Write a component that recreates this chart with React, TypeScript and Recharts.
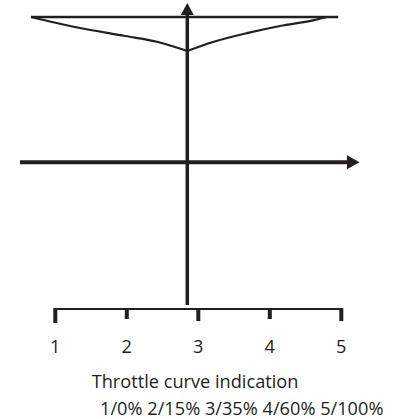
import React from 'react';
import { ComposedChart, Line, XAxis, YAxis, Label } from 'recharts';

// tick positions on the base scale and the throttle value at each one
const ticks = [1, 2, 3, 4, 5];
const throttle = [0, 15, 35, 60, 100];
const caption = 'Throttle curve indication';

// flat edge across the top of the curve diagram
const topEdge = [
  { x: 0.66, y: 98.2 },
  { x: 4.957, y: 98.2 },
];

// the two curve halves meeting at the centre stick
const leftCurve = [
  { x: 0.66, y: 98.2 },
  { x: 1.276, y: 91.4 },
  { x: 1.975, y: 85.3 },
  { x: 2.436, y: 81.3 },
  { x: 2.846, y: 75.2 },
];
const rightCurve = [
  { x: 2.846, y: 75.2 },
  { x: 3.206, y: 81.3 },
  { x: 3.681, y: 87.3 },
  { x: 4.143, y: 92.1 },
  { x: 4.604, y: 95.9 },
  { x: 4.8, y: 98.2 },
];

// arrows (last point = base of the arrow head)
const verticalArrow = [
  { x: 2.846, y: -96.6 },
  { x: 2.846, y: 99.5 },
];
const horizontalArrow = [
  { x: 0.506, y: 0 },
  { x: 5.08, y: 0 },
];

// base scale line
const baseAxis = [
  { x: 1, y: -100 },
  { x: 5, y: -100 },
];

const INK = '#231f20';
const FONT = '"Open Sans", sans-serif';
const FONT_SIZE = 18.2;
const tickDrop = [13, 9, 11, 9, 11];

const arrowHead = (dir: 'up' | 'right') => (props: any) => {
  const { cx, cy, index } = props;
  if (index !== 1) return <g key={`a-${dir}-${index}`} />;
  const pts =
    dir === 'up'
      ? `${cx},${cy - 12} ${cx - 6.5},${cy} ${cx + 6.5},${cy}`
      : `${cx + 12.5},${cy} ${cx},${cy - 7} ${cx},${cy + 7}`;
  return <polygon key={`a-${dir}-${index}`} points={pts} fill={INK} />;
};

const AxisTick = (props: any) => {
  const { x, y, payload, index } = props;
  return (
    <g>
      <line x1={x} x2={x} y1={y} y2={y + tickDrop[index]} stroke={INK} strokeWidth={4} />
      <text x={x} y={y + 42.5} textAnchor="middle" fill={INK} fontSize={FONT_SIZE} fontFamily={FONT}>
        {payload.value}
      </text>
    </g>
  );
};

const CaptionLabel = (props: any) => {
  const { viewBox } = props;
  const line2 = ticks.map((t, i) => `${t}/${throttle[i]}%`).join(' ');
  return (
    <g fill={INK} fontFamily={FONT} fontSize={FONT_SIZE}>
      <text x={viewBox.x + 175.5} y={viewBox.y + 78.3} textAnchor="middle">
        {caption}
      </text>
      <text x={viewBox.x + 222.2} y={viewBox.y + 105} textAnchor="middle">
        {line2}
      </text>
    </g>
  );
};

export default function App() {
  return (
    <div style={{ position: 'absolute', left: 0, top: 0, background: '#fff' }}>
      <ComposedChart width={403} height={419} margin={{ top: 1, right: 40.25, bottom: 0, left: 19.55 }}>
        <XAxis
          dataKey="x"
          type="number"
          domain={[0.5, 5.3]}
          ticks={ticks}
          interval={0}
          allowDataOverflow
          axisLine={false}
          tickLine={false}
          tickSize={0}
          tickMargin={0}
          height={109}
          tick={<AxisTick />}
        >
          <Label content={<CaptionLabel />} />
        </XAxis>
        <YAxis type="number" domain={[-100, 109]} allowDataOverflow hide />

        <Line data={topEdge} dataKey="y" type="linear" stroke={INK} strokeWidth={2.5} dot={false} activeDot={false} isAnimationActive={false} />
        <Line data={leftCurve} dataKey="y" type="monotone" stroke={INK} strokeWidth={2.2} dot={false} activeDot={false} isAnimationActive={false} />
        <Line data={rightCurve} dataKey="y" type="monotone" stroke={INK} strokeWidth={2.2} dot={false} activeDot={false} isAnimationActive={false} />
        <Line data={baseAxis} dataKey="y" type="linear" stroke={INK} strokeWidth={4} strokeLinecap="square" dot={false} activeDot={false} isAnimationActive={false} />
        <Line data={horizontalArrow} dataKey="y" type="linear" stroke={INK} strokeWidth={4} dot={arrowHead('right')} activeDot={false} isAnimationActive={false} />
        <Line data={verticalArrow} dataKey="y" type="linear" stroke={INK} strokeWidth={3.5} dot={arrowHead('up')} activeDot={false} isAnimationActive={false} />
      </ComposedChart>
    </div>
  );
}
